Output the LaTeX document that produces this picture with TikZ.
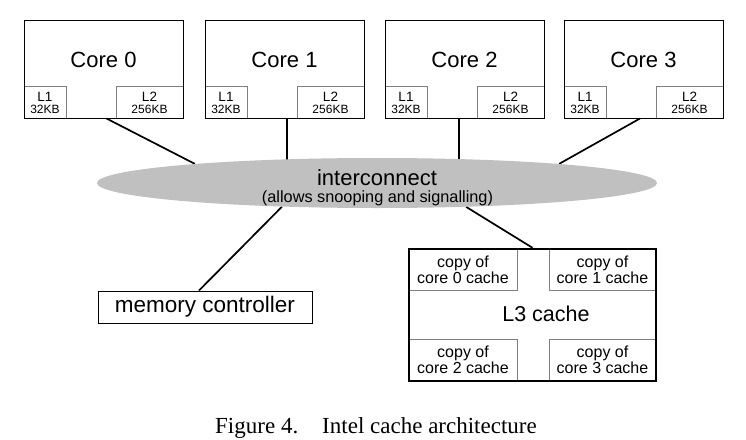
\documentclass[tikz,border=0pt]{standalone}
\usepackage{fontspec}
\setmainfont{Liberation Sans}
\newfontfamily\capfont{Liberation Serif}
\usetikzlibrary{shapes.geometric,calc}
\pgfdeclarelayer{bg}
\pgfsetlayers{bg,main}
\definecolor{icgray}{RGB}{192,192,192}
\definecolor{subgray}{RGB}{128,128,128}
\begin{document}
\begin{tikzpicture}[x=1pt,y=-1pt,
  core/.style={draw=black, line width=1pt, minimum width=159pt, minimum height=98pt, inner sep=0pt},
  cachebox/.style={draw=subgray, line width=1pt, inner sep=0pt, align=center, font=\fontsize{12}{12}\selectfont},
  copybox/.style={draw=subgray, line width=1pt, inner sep=0pt, align=center, font=\fontsize{16}{14}\selectfont},
  title/.style={anchor=base, inner sep=0pt, font=\fontsize{22}{26}\selectfont},
  wire/.style={line width=1.7pt}]
\useasboundingbox (0,0) rectangle (746,439);

% cores
\foreach \i/\x in {0/24,1/205,2/385,3/564}{
  \node[cachebox, minimum width=42pt, minimum height=32pt] (la\i) at (\x+21,102) {\rule{0pt}{12pt}{\fontsize{13.5}{12}\selectfont L1}\\32KB};
  \node[cachebox, minimum width=67pt, minimum height=32pt] (lb\i) at (\x+125.5,102) {\rule{0pt}{12pt}{\fontsize{13.5}{12}\selectfont L2}\\256KB};
  \node[core] (c\i) at (\x+79.5,69) {};
  \node[title] (t\i) at (\x+79.5,67) {Core \i};
}

% interconnect
\node[ellipse, fill=icgray, minimum width=560pt, minimum height=50pt, inner sep=0pt] (ic) at (377,183) {};
\node[title] (ict) at (377,185) {interconnect};
\node[anchor=base, inner sep=0pt, font=\fontsize{16.3}{18}\selectfont] (ics) at (377.5,202.7) {(allows snooping and signalling)};

% memory controller
\node[draw, line width=1pt, minimum width=214pt, minimum height=32pt, inner sep=0pt, font=\fontsize{22.5}{26}\selectfont] (mc) at (205,307) {memory controller};

% L3 cache
\node[copybox, minimum width=108pt, minimum height=41pt] (k0) at (463,269.5) {copy of\\core 0 cache};
\node[copybox, minimum width=107pt, minimum height=41pt] (k1) at (602.5,269.5) {copy of\\core 1 cache};
\node[copybox, minimum width=108pt, minimum height=42pt] (k2) at (463,360) {copy of\\core 2 cache};
\node[copybox, minimum width=107pt, minimum height=42pt] (k3) at (602.5,360) {copy of\\core 3 cache};
\node[draw, line width=2.4pt, minimum width=247pt, minimum height=132pt, inner sep=0pt] (l3) at (532.5,315) {};
\node[title, font=\fontsize{21.5}{24}\selectfont] (l3t) at (546,321) {L3 cache};

% caption
\node[anchor=base west, inner sep=0pt, font=\capfont\fontsize{23}{28}\selectfont] (cap) at (215,433) {Figure 4.\hspace{24pt}Intel cache architecture};

% connectors
\coordinate (p1) at ([xshift=2.5pt]c1.south);
\coordinate (p2) at ([xshift=-5.5pt]c2.south);
\coordinate (pm) at ([xshift=-6pt]mc.north);
\begin{pgfonlayer}{bg}
  \fill[white] (0,0) rectangle (746,439);
  \draw[wire] ([xshift=3pt]c0.south) -- (ic.174);
  \draw[wire] (p1) -- (p1 |- ic.center);
  \draw[wire] (p2) -- (p2 |- ic.center);
  \draw[wire] ([xshift=-3.5pt]c3.south) -- (ic.6);
  \draw[wire] (ic.194) -- (pm);
  \draw[wire] (ic.345) -- (l3.north);
\end{pgfonlayer}
\end{tikzpicture}
\end{document}
